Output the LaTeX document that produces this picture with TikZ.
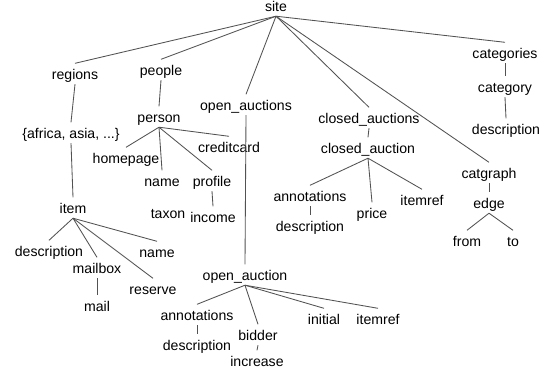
\documentclass[tikz,border=0pt]{standalone}
\usepackage{fontspec}
\setmainfont{Liberation Sans}
\begin{document}
\begin{tikzpicture}[x=1pt,y=-1pt,
  lbl/.style={anchor=base,inner sep=0pt,text height=16pt,text depth=4.5pt,
              font=\fontsize{14.1}{16}\selectfont,text=black},
  link/.style={draw=black!68,line width=0.85pt}]
\fill[white] (0,0) rectangle (546,373);
\useasboundingbox (0,0) rectangle (546,373);

% root
\node[lbl] (site) at (276,11.5) {site};

% first level
\node[lbl] (regions)   at (75,79.5)   {regions};
\node[lbl] (people)    at (161,75.5)  {people};
\node[lbl] (oauctions) at (246,110.5) {open\_auctions};
\node[lbl] (cauctions) at (369,123.5) {closed\_auctions};
\node[lbl] (cats)      at (505,58.5)  {categories};
\node[lbl] (catgraph)  at (489,178.5) {catgraph};

% regions branch
\node[lbl] (conts)    at (71,138.5)  {\{africa, asia, ...\}};
\node[lbl] (item)     at (73,213.5)  {item};
\node[lbl] (idesc)    at (49,256.5)  {description};
\node[lbl] (mailbox)  at (97,273.5)  {mailbox};
\node[lbl] (iname)    at (157,257.5) {name};
\node[lbl] (reserve)  at (153,294.5) {reserve};
\node[lbl] (mail)     at (97,311.5)  {mail};

% people branch
\node[lbl] (person)     at (159,122.5) {person};
\node[lbl] (homepage)   at (126,163.5) {homepage};
\node[lbl] (creditcard) at (229,152.5) {creditcard};
\node[lbl] (pname)      at (162,186.5) {name};
\node[lbl] (profile)    at (212,186.5) {profile};
\node[lbl] (taxon)      at (168,218.5) {taxon};
\node[lbl] (income)     at (213,222.5) {income};

% open auctions branch
\node[lbl] (oauction) at (245,280.5) {open\_auction};
\node[lbl] (oann)     at (197,320.5) {annotations};
\node[lbl] (odesc)    at (197,350.5) {description};
\node[lbl] (bidder)   at (258,340.5) {bidder};
\node[lbl] (increase) at (257,366.5) {increase};
\node[lbl] (initial)  at (324,324.5) {initial};
\node[lbl] (oitemref) at (378,324.5) {itemref};

% closed auctions branch
\node[lbl] (cauction) at (368,153.5) {closed\_auction};
\node[lbl] (cann)     at (310,201.5) {annotations};
\node[lbl] (price)    at (372,218.5) {price};
\node[lbl] (citemref) at (422,205.5) {itemref};
\node[lbl] (cdesc)    at (310,231.5) {description};

% categories branch
\node[lbl] (cat)     at (505,92.5)  {category};
\node[lbl] (catdesc) at (506,134.5) {description};

% catgraph branch
\node[lbl] (edge) at (489,208.5) {edge};
\node[lbl] (from) at (467,246.5) {from};
\node[lbl] (to)   at (513,246.5) {to};

% tree edges
\foreach \p/\c in {site/regions, site/people, site/oauctions, site/cauctions,
                   site/catgraph, site/cats,
                   regions/conts, conts/item,
                   item/idesc, item/mailbox, item/iname, item/reserve, mailbox/mail,
                   people/person,
                   person/homepage, person/pname, person/profile, person/creditcard,
                   profile/income,
                   oauctions/oauction,
                   oauction/oann, oauction/bidder, oauction/initial, oauction/oitemref,
                   oann/odesc, bidder/increase,
                   cauctions/cauction,
                   cauction/cann, cauction/price, cauction/citemref, cann/cdesc,
                   cats/cat, cat/catdesc,
                   catgraph/edge, edge/from, edge/to}
  \draw[link] (\p.south) -- (\c.north);
\end{tikzpicture}
\end{document}
